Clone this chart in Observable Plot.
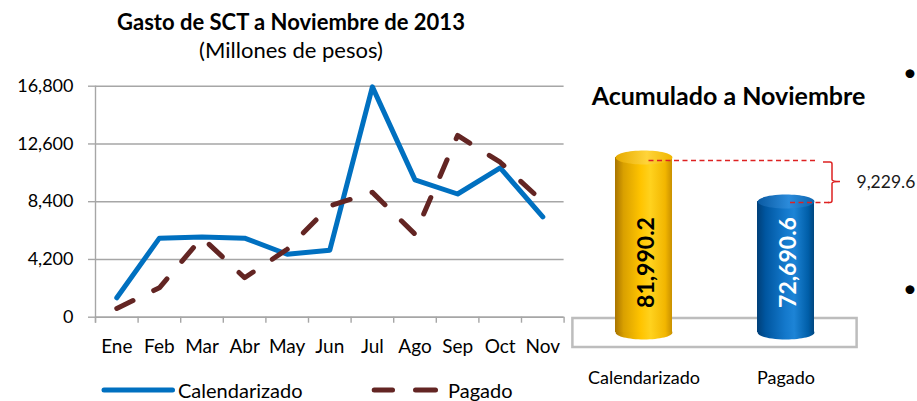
<!DOCTYPE html>
<html>
<head>
<meta charset="utf-8">
<script src="https://cdn.jsdelivr.net/npm/d3@7"></script>
<script src="https://cdn.jsdelivr.net/npm/@observablehq/plot@0.6"></script>
<style>
  html, body { margin: 0; padding: 0; background: #fff; }
  #root { position: relative; width: 917px; height: 401px; overflow: hidden; font-family: Lato, "Open Sans", sans-serif; color: #000; }
  .abs { position: absolute; white-space: nowrap; }
  .title { font-weight: bold; font-size: 22px; line-height: 24px; text-align: center; }
  .sub { font-size: 22px; line-height: 24px; text-align: center; }
  .leg { font-size: 20px; line-height: 20px; }
  .bullet { font-size: 24px; line-height: 24px; }
</style>
</head>
<body>
<div id="root">
  <div class="abs title" style="left:0; width:582px; top:10px;">Gasto de SCT a Noviembre de 2013</div>
  <div class="abs sub" style="left:0; width:582px; top:38px;">(Millones de pesos)</div>
  <svg class="abs" style="left:0; top:380px;" width="560" height="20">
    <line x1="104" y1="10" x2="172.5" y2="10" stroke="#0070C0" stroke-width="5" stroke-linecap="round"/>
    <line x1="374.2" y1="10" x2="392.5" y2="10" stroke="#632523" stroke-width="5" stroke-linecap="round"/>
    <line x1="415.5" y1="10" x2="435.5" y2="10" stroke="#632523" stroke-width="5" stroke-linecap="round"/>
  </svg>
  <div class="abs leg" style="left:178px; top:380px;">Calendarizado</div>
  <div class="abs leg" style="left:448px; top:380px;">Pagado</div>
  <div class="abs title" style="left:560px; width:337px; top:81px; font-size:25px; line-height:28px;">Acumulado a Noviembre</div>
  <div class="abs bullet" style="left:903px; top:60px;">•</div>
  <div class="abs bullet" style="left:903px; top:276px;">•</div>
</div>
<script>
// ---- data ----
const months = ["Ene", "Feb", "Mar", "Abr", "May", "Jun", "Jul", "Ago", "Sep", "Oct", "Nov"];
const calendarizado = [1410, 5750, 5840, 5750, 4580, 4870, 16750, 9990, 8960, 10860, 7300];
const pagado = [640, 2140, 5790, 2870, 4940, 8090, 9080, 6040, 13220, 11270, 8400];
const yTicks = [0, 4200, 8400, 12600, 16800];
const accCategories = ["Calendarizado", "Pagado"];
const accValues = [81990.2, 72690.6];
const accBase = 45000;
const diffLabel = "9,229.6";

// ---- left chart ----
const gridColor = "#a6a6a6";
const rows = (vals) => vals.map((v, i) => ({i: i + 0.5, month: months[i], v}));
const calRows = rows(calendarizado);
const pagRows = rows(pagado);

const left = Plot.plot({
  width: 566, height: 300,
  marginLeft: 95, marginRight: 2.4, marginTop: 15.7, marginBottom: 53.3,
  style: {fontFamily: "Lato, sans-serif", fontSize: "18px", color: "#000", background: "transparent", overflow: "visible"},
  x: {domain: [0, months.length]},
  y: {domain: [0, 16800]},
  marks: [
    Plot.gridY(yTicks, {stroke: gridColor, strokeOpacity: 1, strokeWidth: 1.4}),
    Plot.axisY(yTicks, {tickSize: 7, tickPadding: 15, tickFormat: d3.format(","), stroke: gridColor, strokeWidth: 1.4, label: null}),
    Plot.ruleX([0], {stroke: gridColor, strokeWidth: 1.4, insetBottom: -6}),
    Plot.axisX(d3.range(months.length + 1), {tickSize: 6, tickFormat: () => "", stroke: gridColor, strokeWidth: 1.4, label: null}),
    Plot.axisX(calRows.map(d => d.i), {tickSize: 0, tickPadding: 22, tickFormat: i => months[Math.floor(i)], label: null, fontSize: 19}),
    Plot.ruleY([0], {stroke: gridColor, strokeWidth: 1.4}),
    Plot.line(calRows, {x: "i", y: "v", stroke: "#0070C0", strokeWidth: 5, strokeLinecap: "round", strokeLinejoin: "round"}),
    Plot.line(pagRows, {x: "i", y: "v", stroke: "#632523", strokeWidth: 5, strokeDasharray: "18,23", strokeLinecap: "round", strokeLinejoin: "round"})
  ]
});
left.style.position = "absolute";
left.style.left = "0px";
left.style.top = "70px";
document.getElementById("root").appendChild(left);

// ---- right chart ----
const accData = accCategories.map((c, i) => ({cat: c, value: accValues[i]}));
const ns = "http://www.w3.org/2000/svg";
const bwOf = (x) => typeof x.bandwidth === "function" ? x.bandwidth() : x.bandwidth;
const stepOf = (x) => typeof x.step === "function" ? x.step() : x.step;

function gradientDefs() {
  const g = document.createElementNS(ns, "g");
  g.innerHTML = `<defs>
    <linearGradient id="gGold" x1="0" x2="1" y1="0" y2="0">
      <stop offset="0" stop-color="#a87400"/>
      <stop offset="0.15" stop-color="#d9a000"/>
      <stop offset="0.45" stop-color="#ffc400"/>
      <stop offset="0.62" stop-color="#ffd21e"/>
      <stop offset="0.88" stop-color="#f2b600"/>
      <stop offset="1" stop-color="#c99000"/>
    </linearGradient>
    <linearGradient id="gGoldTop" x1="0" x2="1" y1="0" y2="0">
      <stop offset="0" stop-color="#e6aa00"/>
      <stop offset="0.55" stop-color="#ffd43a"/>
      <stop offset="1" stop-color="#f0b600"/>
    </linearGradient>
    <linearGradient id="gBlue" x1="0" x2="1" y1="0" y2="0">
      <stop offset="0" stop-color="#003f78"/>
      <stop offset="0.15" stop-color="#0056a0"/>
      <stop offset="0.5" stop-color="#1479cc"/>
      <stop offset="0.65" stop-color="#1d84d6"/>
      <stop offset="0.9" stop-color="#005ea8"/>
      <stop offset="1" stop-color="#00467f"/>
    </linearGradient>
    <linearGradient id="gBlueTop" x1="0" x2="1" y1="0" y2="0">
      <stop offset="0" stop-color="#0a5aa2"/>
      <stop offset="0.55" stop-color="#2b8bdb"/>
      <stop offset="1" stop-color="#0d66b0"/>
    </linearGradient>
  </defs>`;
  return g;
}

function platform(index, {x, y}) {
  const bw = bwOf(x), step = stepOf(x);
  const x1 = x(accCategories[0]) - 0.3 * step;
  const x2 = x(accCategories[accCategories.length - 1]) + bw + 0.3 * step;
  const yb = y(accBase);
  const r = document.createElementNS(ns, "rect");
  r.setAttribute("x", x1);
  r.setAttribute("y", yb - 14);
  r.setAttribute("width", x2 - x1);
  r.setAttribute("height", 29);
  r.setAttribute("fill", "#ffffff");
  r.setAttribute("stroke", "#bdbdbd");
  r.setAttribute("stroke-width", 2.5);
  return r;
}

function annotation(index, {x, y}) {
  const bw = bwOf(x);
  const xa = x(accCategories[0]) + bw / 2;
  const xb = x(accCategories[1]) + bw / 2;
  const ya = y(accValues[0]) + 3.5;
  const yb = y(accValues[1]) + 1.5;
  const bx = xb + bw / 2 + 18;
  const mid = (ya + yb) / 2;
  const g = document.createElementNS(ns, "g");
  const mk = (d, dash) => {
    const p = document.createElementNS(ns, "path");
    p.setAttribute("d", d);
    p.setAttribute("fill", "none");
    p.setAttribute("stroke", "#dd2222");
    p.setAttribute("stroke-width", 1.5);
    if (dash) p.setAttribute("stroke-dasharray", "5,3.5");
    g.appendChild(p);
  };
  mk(`M${xa + 5},${ya}H${xb + bw / 2 + 3}`, true);
  mk(`M${xb + 4.5},${yb}H${bx - 3}`, true);
  mk(`M${bx - 9},${ya + 1.5}H${bx - 2}Q${bx},${ya + 1.5} ${bx},${ya + 3.5}V${mid - 2}Q${bx},${mid} ${bx + 8},${mid}Q${bx},${mid} ${bx},${mid + 2}V${yb - 2}Q${bx},${yb} ${bx - 2},${yb}H${bx - 4}`, false);
  return g;
}

const ellipse = {
  draw(ctx, size) {
    const rx = Math.sqrt(size / Math.PI), ry = rx * 0.245, k = 0.5523;
    ctx.moveTo(-rx, 0);
    ctx.bezierCurveTo(-rx, -ry * k, -rx * k, -ry, 0, -ry);
    ctx.bezierCurveTo(rx * k, -ry, rx, -ry * k, rx, 0);
    ctx.bezierCurveTo(rx, ry * k, rx * k, ry, 0, ry);
    ctx.bezierCurveTo(-rx * k, ry, -rx, ry * k, -rx, 0);
    ctx.closePath();
  }
};

const cylR = 28.4;
const barStyle = {
  Calendarizado: {body: "url(#gGold)", top: "url(#gGoldTop)", label: "#000000"},
  Pagado: {body: "url(#gBlue)", top: "url(#gBlueTop)", label: "#ffffff"}
};
const fmt = d3.format(",.1f");

const cylMarks = accData.flatMap(d => {
  const s = barStyle[d.cat];
  const one = [d];
  return [
    Plot.dot(one, {x: "cat", y: () => accBase, symbol: ellipse, r: cylR, fill: s.body, stroke: "none"}),
    Plot.barY(one, {x: "cat", y1: () => accBase, y2: "value", fill: s.body}),
    Plot.dot(one, {x: "cat", y: "value", symbol: ellipse, r: cylR, fill: s.top, stroke: "none"}),
    Plot.text(one, {x: "cat", y: () => accBase, dy: -70, dx: 3, rotate: -90, text: r => fmt(r.value), fill: s.label, fontWeight: "bold", fontSize: 23})
  ];
});

const right = Plot.plot({
  width: 357, height: 291,
  marginLeft: 26.7, marginRight: 74.7, marginTop: 0, marginBottom: 54,
  style: {fontFamily: "Lato, sans-serif", fontSize: "18px", color: "#000", background: "transparent", overflow: "visible"},
  x: {domain: accCategories, paddingInner: 0.6, paddingOuter: 0.2},
  y: {domain: [accBase, 82000], range: [222, 47], axis: null},
  marks: [
    gradientDefs,
    platform,
    ...cylMarks,
    annotation,
    Plot.text([diffLabel], {x: () => accCategories[1], y: () => (accValues[0] + accValues[1]) / 2, dx: 70.5, dy: 3, text: d => d, textAnchor: "start", fontSize: 17.5, fill: "#1a1a1a"}),
    Plot.axisX({tickSize: 0, tickPadding: 24, label: null, fontSize: 18})
  ]
});
right.style.position = "absolute";
right.style.left = "560px";
right.style.top = "110px";
document.getElementById("root").appendChild(right);
</script>
</body>
</html>
